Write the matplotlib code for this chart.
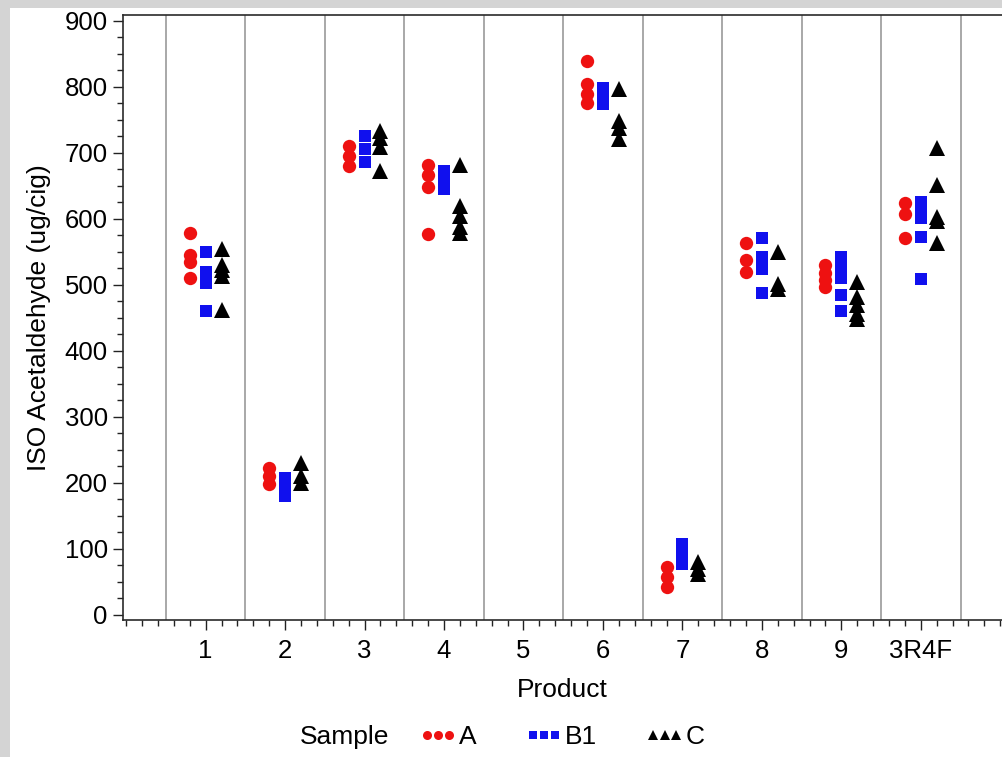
#!/usr/bin/env python3
"""
ISO Acetaldehyde (ug/cig) by Product and Sample - dot plot recreation.

Outputs:
    out.png
"""

import matplotlib

matplotlib.use("Agg")
import matplotlib.pyplot as plt
from matplotlib.lines import Line2D
from matplotlib.patches import Rectangle
from matplotlib.ticker import FixedLocator, MultipleLocator

plt.rcParams["font.family"] = ["Liberation Sans", "DejaVu Sans"]

# --------------------------------------------------------------------------- #
# data
# --------------------------------------------------------------------------- #
PRODUCTS = ["1", "2", "3", "4", "5", "6", "7", "8", "9", "3R4F"]

SAMPLE_A = [
    [579, 545, 535, 511],
    [223, 210, 198],
    [710, 695, 680],
    [682, 667, 649, 577],
    [],
    [839, 804, 790, 775],
    [73, 58, 43],
    [563, 538, 520],
    [530, 518, 507, 497],
    [624, 608, 571],
]
SAMPLE_B1 = [
    [550, 519, 511, 503, 461],
    [207, 194, 181],
    [726, 706, 687],
    [672, 659, 645],
    [],
    [798, 786, 774],
    [107, 92, 77],
    [571, 543, 524, 488],
    [543, 527, 511, 485, 460],
    [625, 612, 601, 572, 509],
]
SAMPLE_C = [
    [554, 530, 522, 514, 462],
    [230, 210, 200],
    [734, 722, 709, 672],
    [682, 619, 604, 588, 579],
    [],
    [797, 748, 738, 721],
    [80, 70, 62],
    [550, 502, 494],
    [505, 482, 470, 456, 448],
    [707, 652, 603, 597, 563],
]

SAMPLE_NAMES = ["A", "B1", "C"]

# --------------------------------------------------------------------------- #
# style
# --------------------------------------------------------------------------- #
COLOR_FRAME = "#d4d4d4"
COLOR_GRID = "#a8a8a8"
COLOR_A = "#ee1111"
COLOR_B1 = "#1010ee"
COLOR_C = "#000000"

W, H = 1002, 757


def main() -> None:
    fig = plt.figure(figsize=(W / 100, H / 100), dpi=100, facecolor=COLOR_FRAME)
    fig.patches.append(
        Rectangle((10 / W, 0), 1, 1 - 8 / H, transform=fig.transFigure,
                  facecolor="white", edgecolor="none", zorder=-10)
    )

    ax = fig.add_axes([123 / W, 137 / H, (1040 - 123) / W, 605 / H])
    ax.set_facecolor("white")

    styles = [
        (SAMPLE_A, -0.2, "o", 9.6, COLOR_A),
        (SAMPLE_B1, 0.0, "s", 9.2, COLOR_B1),
        (SAMPLE_C, 0.2, "^", 11.5, COLOR_C),
    ]
    for data, off, marker, ms, color in styles:
        for i, vals in enumerate(data):
            if not vals:
                continue
            ax.plot([i + 1 + off] * len(vals), vals, ls="none", marker=marker,
                    ms=ms, color=color, mec=color, mew=0, zorder=3)

    for k in range(len(PRODUCTS) + 1):
        ax.axvline(k + 0.5, color=COLOR_GRID, lw=1.4, zorder=1)

    ax.set_xlim(-0.04, 11.5)
    ax.set_ylim(-7.6, 909)

    ax.xaxis.set_major_locator(FixedLocator(range(1, len(PRODUCTS) + 1)))
    ax.set_xticklabels(PRODUCTS)
    ax.xaxis.set_minor_locator(MultipleLocator(0.2))
    ax.yaxis.set_major_locator(MultipleLocator(100))
    ax.yaxis.set_minor_locator(MultipleLocator(25))

    ax.tick_params(which="both", direction="out", color="#222222", width=1.0)
    ax.tick_params(which="major", length=7, labelsize=18.5, pad=4)
    ax.tick_params(which="minor", length=4)
    ax.tick_params(axis="x", which="major", pad=7)

    for side in ("left", "bottom", "top"):
        ax.spines[side].set_color("#2a2a2a")
        ax.spines[side].set_linewidth(1.2)
    ax.spines["right"].set_visible(False)

    ax.set_ylabel("ISO Acetaldehyde (ug/cig)", fontsize=19, labelpad=10)
    fig.text(562 / W, 1 - 690 / H, "Product", fontsize=19, ha="center", va="center")

    # legend row
    fig.text(300 / W, 1 - 737 / H, "Sample", fontsize=19, ha="left", va="center")
    handles = [
        Line2D([], [], ls="none", marker="o", ms=6.5, color=COLOR_A, mew=0),
        Line2D([], [], ls="none", marker="s", ms=6, color=COLOR_B1, mew=0),
        Line2D([], [], ls="none", marker="^", ms=7.5, color=COLOR_C, mew=0),
    ]
    fig.legend(handles, SAMPLE_NAMES, loc="center left",
               bbox_to_anchor=(419 / W, 1 - 737 / H), ncol=3, frameon=False,
               numpoints=3, handlelength=1.45, handletextpad=0.05,
               columnspacing=1.85, fontsize=19, borderpad=0, borderaxespad=0)

    fig.savefig("out.png", dpi=100, facecolor=fig.get_facecolor())
    plt.close(fig)


if __name__ == "__main__":
    main()
